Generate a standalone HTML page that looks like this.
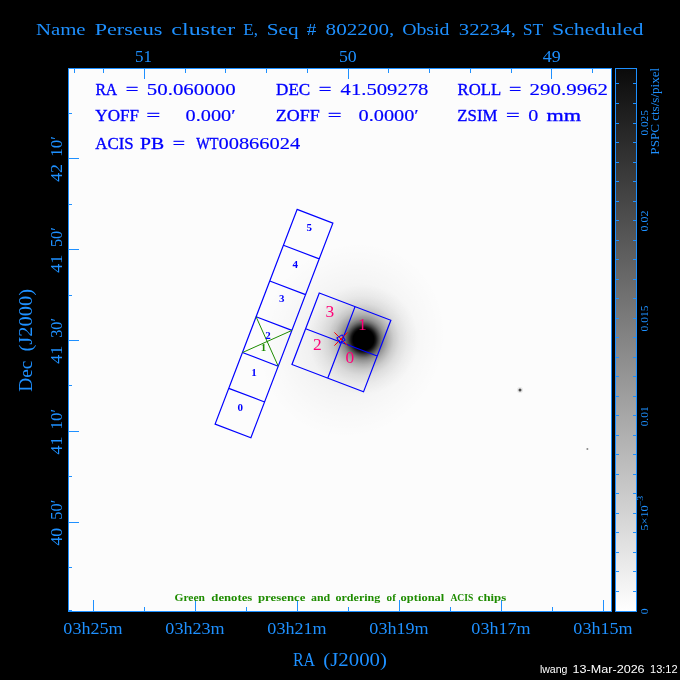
<!DOCTYPE html>
<html><head><meta charset="utf-8"><style>
html,body{margin:0;padding:0;background:#000;width:680px;height:680px;overflow:hidden}
svg{display:block;will-change:transform}
</style></head><body>
<svg width="680" height="680" viewBox="0 0 680 680">
<rect width="680" height="680" fill="#000"/>
<defs>
<radialGradient id="core" cx="0.5" cy="0.5" r="0.5"><stop offset="0.000" stop-color="#000" stop-opacity="1"/><stop offset="0.191" stop-color="#000" stop-opacity="1"/><stop offset="0.227" stop-color="#000" stop-opacity="0.9"/><stop offset="0.273" stop-color="#000" stop-opacity="0.7"/><stop offset="0.327" stop-color="#000" stop-opacity="0.5"/><stop offset="0.382" stop-color="#000" stop-opacity="0.36"/><stop offset="0.455" stop-color="#000" stop-opacity="0.25"/><stop offset="0.545" stop-color="#000" stop-opacity="0.15"/><stop offset="0.655" stop-color="#000" stop-opacity="0.08"/><stop offset="0.800" stop-color="#000" stop-opacity="0.035"/><stop offset="1.000" stop-color="#000" stop-opacity="0"/></radialGradient>
<radialGradient id="halo" cx="0.5" cy="0.5" r="0.5"><stop offset="0.000" stop-color="#000" stop-opacity="0.12"/><stop offset="0.150" stop-color="#000" stop-opacity="0.1"/><stop offset="0.300" stop-color="#000" stop-opacity="0.07"/><stop offset="0.450" stop-color="#000" stop-opacity="0.045"/><stop offset="0.600" stop-color="#000" stop-opacity="0.028"/><stop offset="0.800" stop-color="#000" stop-opacity="0.012"/><stop offset="1.000" stop-color="#000" stop-opacity="0"/></radialGradient>
<linearGradient id="cbar" x1="0" y1="68" x2="0" y2="611" gradientUnits="userSpaceOnUse"><stop offset="0" stop-color="#0a0a0a"/><stop offset="1" stop-color="#ffffff"/></linearGradient>
</defs>
<rect x="68" y="68" width="543" height="543" fill="#fcfcfc"/>
<ellipse cx="352" cy="340" rx="100" ry="92" fill="url(#halo)" transform="rotate(-60 352 340)"/>
<circle cx="363.5" cy="339.5" r="55" fill="url(#core)"/>
<circle cx="520" cy="390" r="3" fill="#000" fill-opacity="0.08"/>
<circle cx="520" cy="390" r="1.5" fill="#4a4a4a"/>
<circle cx="587.4" cy="449" r="1" fill="#888"/>
<rect x="68.5" y="68.5" width="543" height="543" fill="none" stroke="rgb(30,144,255)" stroke-width="1"/>
<rect x="615" y="68" width="21" height="543" fill="url(#cbar)"/>
<rect x="615.5" y="68.5" width="21" height="543" fill="none" stroke="rgb(30,144,255)" stroke-width="1"/>
<path d="M74.5 68V73M103.5 68V73M185.5 68V73M225.5 68V73M266.5 68V73M307.5 68V73M388.5 68V73M429.5 68V73M470.5 68V73M511.5 68V73M592.5 68V73M144.5 68V79M348.5 68V79M551.5 68V79M93.5 600V611M195.5 600V611M297.5 600V611M399.5 600V611M501.5 600V611M603.5 600V611M144.5 607V611M246.5 607V611M348.5 607V611M450.5 607V611M552.5 607V611M68 158.5H79M68 249.5H79M68 340.5H79M68 431.5H79M68 522.5H79M68 113.5H72M68 204.5H72M68 295.5H72M68 385.5H72M68 476.5H72M68 567.5H72M68 610.5H72M615 591.5H619M633 591.5H637M615 571.5H619M633 571.5H637M615 552.5H619M633 552.5H637M615 532.5H619M633 532.5H637M615 513.5H619M633 513.5H637M615 493.5H619M633 493.5H637M615 474.5H619M633 474.5H637M615 454.5H619M633 454.5H637M615 435.5H619M633 435.5H637M615 415.5H619M633 415.5H637M615 396.5H619M633 396.5H637M615 376.5H619M633 376.5H637M615 357.5H619M633 357.5H637M615 337.5H619M633 337.5H637M615 318.5H619M633 318.5H637M615 298.5H619M633 298.5H637M615 279.5H619M633 279.5H637M615 259.5H619M633 259.5H637M615 240.5H619M633 240.5H637M615 220.5H619M633 220.5H637M615 201.5H619M633 201.5H637M615 181.5H619M633 181.5H637M615 162.5H619M633 162.5H637M615 142.5H619M633 142.5H637M615 123.5H619M633 123.5H637M615 103.5H619M633 103.5H637M615 83.5H619M633 83.5H637" stroke="rgb(30,144,255)" stroke-width="1" fill="none"/>
<path d="M297.09 209.43L332.87 223.09L250.89 437.77L215.11 424.11ZM283.43 245.21L319.21 258.87M269.76 280.99L305.54 294.65M256.1 316.77L291.88 330.43M242.44 352.55L278.22 366.21M228.77 388.33L264.55 401.99M319.28 292.96L390.84 320.28L363.52 391.84L291.96 364.52ZM305.62 328.74L377.18 356.06M355.06 306.62L327.74 378.18" stroke="rgb(0,0,255)" stroke-width="1.2" fill="none"/>
<path d="M256.1 316.77L278.22 366.21M291.88 330.43L242.44 352.55" stroke="rgb(30,140,0)" stroke-width="1" fill="none"/>
<path d="M334.4 332.4L347.6 345.6M347.6 332.4L334.4 345.6" stroke="rgb(255,0,0)" stroke-width="1"/>
<rect x="338" y="336" width="6" height="6" fill="none" stroke="rgb(0,0,255)" stroke-width="1" transform="rotate(60 341 339)"/>
<text x="306.52" y="231.43" font-family="'Liberation Serif', serif" font-weight="bold" font-size="11" fill="rgb(0,0,255)">5</text>
<text x="292.55" y="267.73" font-family="'Liberation Serif', serif" font-weight="bold" font-size="11" fill="rgb(0,0,255)">4</text>
<text x="279.12" y="302.12" font-family="'Liberation Serif', serif" font-weight="bold" font-size="11" fill="rgb(0,0,255)">3</text>
<text x="265.25" y="339.23" font-family="'Liberation Serif', serif" font-weight="bold" font-size="11" fill="rgb(0,0,255)">2</text>
<text x="251.22" y="375.73" font-family="'Liberation Serif', serif" font-weight="bold" font-size="11" fill="rgb(0,0,255)">1</text>
<text x="237.43" y="411.43" font-family="'Liberation Serif', serif" font-weight="bold" font-size="11" fill="rgb(0,0,255)">0</text>
<text x="260.82" y="350.62" font-family="'Liberation Serif', serif" font-weight="bold" font-size="11" fill="rgb(30,140,0)">1</text>
<text x="325.62" y="316.75" font-family="'Liberation Serif', serif" font-weight="normal" font-size="17.4" fill="rgb(255,0,120)">3</text>
<text x="357.98" y="329.65" font-family="'Liberation Serif', serif" font-weight="normal" font-size="17.4" fill="rgb(255,0,120)">1</text>
<text x="312.95" y="349.77" font-family="'Liberation Serif', serif" font-weight="normal" font-size="17.4" fill="rgb(255,0,120)">2</text>
<text x="345.43" y="363.05" font-family="'Liberation Serif', serif" font-weight="normal" font-size="17.4" fill="rgb(255,0,120)">0</text>
<text x="35.9" y="34.5" font-family="'Liberation Serif', serif" font-weight="normal" font-size="17.5" fill="rgb(30,144,255)" textLength="49.73" lengthAdjust="spacingAndGlyphs" xml:space="preserve">Name</text>
<text x="94.67" y="34.5" font-family="'Liberation Serif', serif" font-weight="normal" font-size="17.5" fill="rgb(30,144,255)" textLength="67.74" lengthAdjust="spacingAndGlyphs" xml:space="preserve">Perseus</text>
<text x="171.37" y="34.5" font-family="'Liberation Serif', serif" font-weight="normal" font-size="17.5" fill="rgb(30,144,255)" textLength="63.83" lengthAdjust="spacingAndGlyphs" xml:space="preserve">cluster</text>
<text x="243.31" y="34.5" font-family="'Liberation Serif', serif" font-weight="normal" font-size="17.5" fill="rgb(30,144,255)" textLength="14.73" lengthAdjust="spacingAndGlyphs" xml:space="preserve">E,</text>
<text x="266.68" y="34.5" font-family="'Liberation Serif', serif" font-weight="normal" font-size="17.5" fill="rgb(30,144,255)" textLength="31.82" lengthAdjust="spacingAndGlyphs" xml:space="preserve">Seq</text>
<text x="306.73" y="34.5" font-family="'Liberation Serif', serif" font-weight="normal" font-size="17.5" fill="rgb(30,144,255)" textLength="9.55" lengthAdjust="spacingAndGlyphs" xml:space="preserve">#</text>
<text x="325.59" y="34.5" font-family="'Liberation Serif', serif" font-weight="normal" font-size="17.5" fill="rgb(30,144,255)" textLength="68.77" lengthAdjust="spacingAndGlyphs" xml:space="preserve">802200,</text>
<text x="402.15" y="34.5" font-family="'Liberation Serif', serif" font-weight="normal" font-size="17.5" fill="rgb(30,144,255)" textLength="47.32" lengthAdjust="spacingAndGlyphs" xml:space="preserve">Obsid</text>
<text x="458.81" y="34.5" font-family="'Liberation Serif', serif" font-weight="normal" font-size="17.5" fill="rgb(30,144,255)" textLength="57.23" lengthAdjust="spacingAndGlyphs" xml:space="preserve">32234,</text>
<text x="522.74" y="34.5" font-family="'Liberation Serif', serif" font-weight="normal" font-size="17.5" fill="rgb(30,144,255)" textLength="20.64" lengthAdjust="spacingAndGlyphs" xml:space="preserve">ST</text>
<text x="551.93" y="34.5" font-family="'Liberation Serif', serif" font-weight="normal" font-size="17.5" fill="rgb(30,144,255)" textLength="91.45" lengthAdjust="spacingAndGlyphs" xml:space="preserve">Scheduled</text>
<text x="134.97" y="62" font-family="'Liberation Serif', serif" font-weight="normal" font-size="16.4" fill="rgb(30,144,255)" textLength="16.96" lengthAdjust="spacingAndGlyphs" xml:space="preserve">51</text>
<text x="338.92" y="62" font-family="'Liberation Serif', serif" font-weight="normal" font-size="16.4" fill="rgb(30,144,255)" textLength="17.79" lengthAdjust="spacingAndGlyphs" xml:space="preserve">50</text>
<text x="542.73" y="62" font-family="'Liberation Serif', serif" font-weight="normal" font-size="16.4" fill="rgb(30,144,255)" textLength="17.99" lengthAdjust="spacingAndGlyphs" xml:space="preserve">49</text>
<text x="63.35" y="634" font-family="'Liberation Serif', serif" font-weight="normal" font-size="16.6" fill="rgb(30,144,255)" textLength="59.32" lengthAdjust="spacingAndGlyphs" xml:space="preserve">03h25m</text>
<text x="165.35" y="634" font-family="'Liberation Serif', serif" font-weight="normal" font-size="16.6" fill="rgb(30,144,255)" textLength="59.32" lengthAdjust="spacingAndGlyphs" xml:space="preserve">03h23m</text>
<text x="267.35" y="634" font-family="'Liberation Serif', serif" font-weight="normal" font-size="16.6" fill="rgb(30,144,255)" textLength="59.32" lengthAdjust="spacingAndGlyphs" xml:space="preserve">03h21m</text>
<text x="369.35" y="634" font-family="'Liberation Serif', serif" font-weight="normal" font-size="16.6" fill="rgb(30,144,255)" textLength="59.32" lengthAdjust="spacingAndGlyphs" xml:space="preserve">03h19m</text>
<text x="471.35" y="634" font-family="'Liberation Serif', serif" font-weight="normal" font-size="16.6" fill="rgb(30,144,255)" textLength="59.32" lengthAdjust="spacingAndGlyphs" xml:space="preserve">03h17m</text>
<text x="573.35" y="634" font-family="'Liberation Serif', serif" font-weight="normal" font-size="16.6" fill="rgb(30,144,255)" textLength="59.32" lengthAdjust="spacingAndGlyphs" xml:space="preserve">03h15m</text>
<text x="292.95" y="665.8" font-family="'Liberation Serif', serif" font-weight="normal" font-size="17.8" fill="rgb(30,144,255)" textLength="22.23" lengthAdjust="spacingAndGlyphs" xml:space="preserve">RA</text>
<text x="323.32" y="665.8" font-family="'Liberation Serif', serif" font-weight="normal" font-size="17.8" fill="rgb(30,144,255)" textLength="63.6" lengthAdjust="spacingAndGlyphs" xml:space="preserve">(J2000)</text>
<text x="95.42" y="94.6" font-family="'Liberation Serif', serif" font-weight="normal" font-size="16.4" fill="rgb(0,0,255)" textLength="21.81" lengthAdjust="spacingAndGlyphs" xml:space="preserve" stroke="rgb(0,0,255)" stroke-width="0.35">RA</text>
<text x="125.77" y="94.6" font-family="'Liberation Serif', serif" font-weight="normal" font-size="16.4" fill="rgb(0,0,255)" textLength="12.65" lengthAdjust="spacingAndGlyphs" xml:space="preserve" stroke="rgb(0,0,255)" stroke-width="0.35">=</text>
<text x="146.83" y="94.6" font-family="'Liberation Serif', serif" font-weight="normal" font-size="16.4" fill="rgb(0,0,255)" textLength="88.76" lengthAdjust="spacingAndGlyphs" xml:space="preserve" stroke="rgb(0,0,255)" stroke-width="0.15">50.060000</text>
<text x="276.08" y="94.6" font-family="'Liberation Serif', serif" font-weight="normal" font-size="16.4" fill="rgb(0,0,255)" textLength="34.15" lengthAdjust="spacingAndGlyphs" xml:space="preserve" stroke="rgb(0,0,255)" stroke-width="0.35">DEC</text>
<text x="318.67" y="94.6" font-family="'Liberation Serif', serif" font-weight="normal" font-size="16.4" fill="rgb(0,0,255)" textLength="12.65" lengthAdjust="spacingAndGlyphs" xml:space="preserve" stroke="rgb(0,0,255)" stroke-width="0.35">=</text>
<text x="340.58" y="94.6" font-family="'Liberation Serif', serif" font-weight="normal" font-size="16.4" fill="rgb(0,0,255)" textLength="87.89" lengthAdjust="spacingAndGlyphs" xml:space="preserve" stroke="rgb(0,0,255)" stroke-width="0.15">41.509278</text>
<text x="457.59" y="94.6" font-family="'Liberation Serif', serif" font-weight="normal" font-size="16.4" fill="rgb(0,0,255)" textLength="43.49" lengthAdjust="spacingAndGlyphs" xml:space="preserve" stroke="rgb(0,0,255)" stroke-width="0.35">ROLL</text>
<text x="509" y="94.6" font-family="'Liberation Serif', serif" font-weight="normal" font-size="16.4" fill="rgb(0,0,255)" textLength="12.29" lengthAdjust="spacingAndGlyphs" xml:space="preserve" stroke="rgb(0,0,255)" stroke-width="0.35">=</text>
<text x="529.64" y="94.6" font-family="'Liberation Serif', serif" font-weight="normal" font-size="16.4" fill="rgb(0,0,255)" textLength="78.41" lengthAdjust="spacingAndGlyphs" xml:space="preserve" stroke="rgb(0,0,255)" stroke-width="0.15">290.9962</text>
<text x="95.34" y="121.3" font-family="'Liberation Serif', serif" font-weight="normal" font-size="16.4" fill="rgb(0,0,255)" textLength="43.56" lengthAdjust="spacingAndGlyphs" xml:space="preserve" stroke="rgb(0,0,255)" stroke-width="0.35">YOFF</text>
<text x="146.49" y="121.3" font-family="'Liberation Serif', serif" font-weight="normal" font-size="16.4" fill="rgb(0,0,255)" textLength="13.73" lengthAdjust="spacingAndGlyphs" xml:space="preserve" stroke="rgb(0,0,255)" stroke-width="0.35">=</text>
<text x="185.58" y="121.3" font-family="'Liberation Serif', serif" font-weight="normal" font-size="16.4" fill="rgb(0,0,255)" textLength="50.03" lengthAdjust="spacingAndGlyphs" xml:space="preserve" stroke="rgb(0,0,255)" stroke-width="0.15">0.000&#8242;</text>
<text x="275.78" y="121.3" font-family="'Liberation Serif', serif" font-weight="normal" font-size="16.4" fill="rgb(0,0,255)" textLength="43.88" lengthAdjust="spacingAndGlyphs" xml:space="preserve" stroke="rgb(0,0,255)" stroke-width="0.35">ZOFF</text>
<text x="327.69" y="121.3" font-family="'Liberation Serif', serif" font-weight="normal" font-size="16.4" fill="rgb(0,0,255)" textLength="13.73" lengthAdjust="spacingAndGlyphs" xml:space="preserve" stroke="rgb(0,0,255)" stroke-width="0.35">=</text>
<text x="358.48" y="121.3" font-family="'Liberation Serif', serif" font-weight="normal" font-size="16.4" fill="rgb(0,0,255)" textLength="60.37" lengthAdjust="spacingAndGlyphs" xml:space="preserve" stroke="rgb(0,0,255)" stroke-width="0.15">0.0000&#8242;</text>
<text x="457.33" y="121.3" font-family="'Liberation Serif', serif" font-weight="normal" font-size="16.4" fill="rgb(0,0,255)" textLength="40.11" lengthAdjust="spacingAndGlyphs" xml:space="preserve" stroke="rgb(0,0,255)" stroke-width="0.35">ZSIM</text>
<text x="505.9" y="121.3" font-family="'Liberation Serif', serif" font-weight="normal" font-size="16.4" fill="rgb(0,0,255)" textLength="13.61" lengthAdjust="spacingAndGlyphs" xml:space="preserve" stroke="rgb(0,0,255)" stroke-width="0.35">=</text>
<text x="528.19" y="121.3" font-family="'Liberation Serif', serif" font-weight="normal" font-size="16.4" fill="rgb(0,0,255)" textLength="10.07" lengthAdjust="spacingAndGlyphs" xml:space="preserve" stroke="rgb(0,0,255)" stroke-width="0.15">0</text>
<text x="546.46" y="121.3" font-family="'Liberation Serif', serif" font-weight="normal" font-size="16.4" fill="rgb(0,0,255)" textLength="34.49" lengthAdjust="spacingAndGlyphs" xml:space="preserve" stroke="rgb(0,0,255)" stroke-width="0.35">mm</text>
<text x="95.34" y="148.8" font-family="'Liberation Serif', serif" font-weight="normal" font-size="16.4" fill="rgb(0,0,255)" textLength="38.4" lengthAdjust="spacingAndGlyphs" xml:space="preserve" stroke="rgb(0,0,255)" stroke-width="0.35">ACIS</text>
<text x="140.1" y="148.8" font-family="'Liberation Serif', serif" font-weight="normal" font-size="16.4" fill="rgb(0,0,255)" textLength="24.07" lengthAdjust="spacingAndGlyphs" xml:space="preserve" stroke="rgb(0,0,255)" stroke-width="0.35">PB</text>
<text x="172.8" y="148.8" font-family="'Liberation Serif', serif" font-weight="normal" font-size="16.4" fill="rgb(0,0,255)" textLength="12.29" lengthAdjust="spacingAndGlyphs" xml:space="preserve" stroke="rgb(0,0,255)" stroke-width="0.35">=</text>
<text x="196.2" y="148.8" font-family="'Liberation Serif', serif" font-weight="normal" font-size="16.4" fill="rgb(0,0,255)" textLength="22.21" lengthAdjust="spacingAndGlyphs" xml:space="preserve" stroke="rgb(0,0,255)" stroke-width="0.35">WT</text>
<text x="218.48" y="148.8" font-family="'Liberation Serif', serif" font-weight="normal" font-size="16.4" fill="rgb(0,0,255)" textLength="81.75" lengthAdjust="spacingAndGlyphs" xml:space="preserve" stroke="rgb(0,0,255)" stroke-width="0.15">00866024</text>
<text x="174.42" y="600.8" font-family="'Liberation Serif', serif" font-weight="bold" font-size="10" fill="rgb(30,140,0)" textLength="30.55" lengthAdjust="spacingAndGlyphs" xml:space="preserve">Green</text>
<text x="211.37" y="600.8" font-family="'Liberation Serif', serif" font-weight="bold" font-size="10" fill="rgb(30,140,0)" textLength="40.92" lengthAdjust="spacingAndGlyphs" xml:space="preserve">denotes</text>
<text x="258" y="600.8" font-family="'Liberation Serif', serif" font-weight="bold" font-size="10" fill="rgb(30,140,0)" textLength="47.35" lengthAdjust="spacingAndGlyphs" xml:space="preserve">presence</text>
<text x="310.95" y="600.8" font-family="'Liberation Serif', serif" font-weight="bold" font-size="10" fill="rgb(30,140,0)" textLength="19.2" lengthAdjust="spacingAndGlyphs" xml:space="preserve">and</text>
<text x="335.5" y="600.8" font-family="'Liberation Serif', serif" font-weight="bold" font-size="10" fill="rgb(30,140,0)" textLength="44.76" lengthAdjust="spacingAndGlyphs" xml:space="preserve">ordering</text>
<text x="386.62" y="600.8" font-family="'Liberation Serif', serif" font-weight="bold" font-size="10" fill="rgb(30,140,0)" textLength="9.29" lengthAdjust="spacingAndGlyphs" xml:space="preserve">of</text>
<text x="400.59" y="600.8" font-family="'Liberation Serif', serif" font-weight="bold" font-size="10" fill="rgb(30,140,0)" textLength="43.73" lengthAdjust="spacingAndGlyphs" xml:space="preserve">optional</text>
<text x="450.4" y="600.8" font-family="'Liberation Serif', serif" font-weight="bold" font-size="10" fill="rgb(30,140,0)" textLength="22.88" lengthAdjust="spacingAndGlyphs" xml:space="preserve">ACIS</text>
<text x="477.78" y="600.8" font-family="'Liberation Serif', serif" font-weight="bold" font-size="10" fill="rgb(30,140,0)" textLength="28.42" lengthAdjust="spacingAndGlyphs" xml:space="preserve">chips</text>
<text x="539.88" y="672.9" font-family="'Liberation Sans', sans-serif" font-weight="normal" font-size="11" fill="#fff" textLength="27.63" lengthAdjust="spacingAndGlyphs" xml:space="preserve">lwang</text>
<text x="572.64" y="672.9" font-family="'Liberation Sans', sans-serif" font-weight="normal" font-size="11" fill="#fff" textLength="72" lengthAdjust="spacingAndGlyphs" xml:space="preserve">13-Mar-2026</text>
<text x="650.05" y="672.9" font-family="'Liberation Sans', sans-serif" font-weight="normal" font-size="11" fill="#fff" textLength="27.58" lengthAdjust="spacingAndGlyphs" xml:space="preserve">13:12</text>
<text x="-0.27" y="0" transform="translate(62 181.6) rotate(-90)" font-family="'Liberation Serif', serif" font-weight="normal" font-size="16.4" fill="rgb(30,144,255)" textLength="17.96" lengthAdjust="spacingAndGlyphs" xml:space="preserve">42</text>
<text x="-1.55" y="0" transform="translate(62 155.2) rotate(-90)" font-family="'Liberation Serif', serif" font-weight="normal" font-size="16.4" fill="rgb(30,144,255)" textLength="20.61" lengthAdjust="spacingAndGlyphs" xml:space="preserve">10&#8242;</text>
<text x="-0.27" y="0" transform="translate(62 272.5) rotate(-90)" font-family="'Liberation Serif', serif" font-weight="normal" font-size="16.4" fill="rgb(30,144,255)" textLength="17.96" lengthAdjust="spacingAndGlyphs" xml:space="preserve">41</text>
<text x="-1" y="0" transform="translate(62 246.1) rotate(-90)" font-family="'Liberation Serif', serif" font-weight="normal" font-size="16.4" fill="rgb(30,144,255)" textLength="20.04" lengthAdjust="spacingAndGlyphs" xml:space="preserve">50&#8242;</text>
<text x="-0.27" y="0" transform="translate(62 363.4) rotate(-90)" font-family="'Liberation Serif', serif" font-weight="normal" font-size="16.4" fill="rgb(30,144,255)" textLength="17.96" lengthAdjust="spacingAndGlyphs" xml:space="preserve">41</text>
<text x="-0.74" y="0" transform="translate(62 337) rotate(-90)" font-family="'Liberation Serif', serif" font-weight="normal" font-size="16.4" fill="rgb(30,144,255)" textLength="19.77" lengthAdjust="spacingAndGlyphs" xml:space="preserve">30&#8242;</text>
<text x="-0.27" y="0" transform="translate(62 454.3) rotate(-90)" font-family="'Liberation Serif', serif" font-weight="normal" font-size="16.4" fill="rgb(30,144,255)" textLength="17.96" lengthAdjust="spacingAndGlyphs" xml:space="preserve">41</text>
<text x="-1.55" y="0" transform="translate(62 427.9) rotate(-90)" font-family="'Liberation Serif', serif" font-weight="normal" font-size="16.4" fill="rgb(30,144,255)" textLength="20.61" lengthAdjust="spacingAndGlyphs" xml:space="preserve">10&#8242;</text>
<text x="-0.27" y="0" transform="translate(62 545.2) rotate(-90)" font-family="'Liberation Serif', serif" font-weight="normal" font-size="16.4" fill="rgb(30,144,255)" textLength="17.67" lengthAdjust="spacingAndGlyphs" xml:space="preserve">40</text>
<text x="-1" y="0" transform="translate(62 518.8) rotate(-90)" font-family="'Liberation Serif', serif" font-weight="normal" font-size="16.4" fill="rgb(30,144,255)" textLength="20.04" lengthAdjust="spacingAndGlyphs" xml:space="preserve">50&#8242;</text>
<text x="-0.54" y="0" transform="translate(31.8 391.3) rotate(-90)" font-family="'Liberation Serif', serif" font-weight="normal" font-size="17.8" fill="rgb(30,144,255)" textLength="31.18" lengthAdjust="spacingAndGlyphs" xml:space="preserve">Dec</text>
<text x="-0.86" y="0" transform="translate(31.8 350.7) rotate(-90)" font-family="'Liberation Serif', serif" font-weight="normal" font-size="17.8" fill="rgb(30,144,255)" textLength="62.67" lengthAdjust="spacingAndGlyphs" xml:space="preserve">(J2000)</text>
<text x="-0.27" y="0" transform="translate(648.2 135.3) rotate(-90)" font-family="'Liberation Serif', serif" font-weight="normal" font-size="10.4" fill="rgb(30,144,255)" textLength="25.4" lengthAdjust="spacingAndGlyphs" xml:space="preserve">0.025</text>
<text x="-0.29" y="0" transform="translate(648.2 231.3) rotate(-90)" font-family="'Liberation Serif', serif" font-weight="normal" font-size="10.4" fill="rgb(30,144,255)" textLength="21.11" lengthAdjust="spacingAndGlyphs" xml:space="preserve">0.02</text>
<text x="-0.28" y="0" transform="translate(648.2 331.2) rotate(-90)" font-family="'Liberation Serif', serif" font-weight="normal" font-size="10.4" fill="rgb(30,144,255)" textLength="26.12" lengthAdjust="spacingAndGlyphs" xml:space="preserve">0.015</text>
<text x="-0.27" y="0" transform="translate(648.2 426.1) rotate(-90)" font-family="'Liberation Serif', serif" font-weight="normal" font-size="10.4" fill="rgb(30,144,255)" textLength="19.97" lengthAdjust="spacingAndGlyphs" xml:space="preserve">0.01</text>
<text x="-0.28" y="0" transform="translate(648.2 614) rotate(-90)" font-family="'Liberation Serif', serif" font-weight="normal" font-size="10.4" fill="rgb(30,144,255)" textLength="5.89" lengthAdjust="spacingAndGlyphs" xml:space="preserve">0</text>
<text x="-0.59" y="0" transform="translate(648.2 530) rotate(-90)" font-family="'Liberation Serif', serif" font-weight="normal" font-size="10.4" fill="rgb(30,144,255)" textLength="25.23" lengthAdjust="spacingAndGlyphs" xml:space="preserve">5&#215;10</text>
<text x="-0.33" y="0" transform="translate(643 505.9) rotate(-90)" font-family="'Liberation Serif', serif" font-weight="normal" font-size="7.5" fill="rgb(30,144,255)" textLength="10.53" lengthAdjust="spacingAndGlyphs" xml:space="preserve">&#8722;3</text>
<text x="-0.26" y="0" transform="translate(658.6 154.4) rotate(-90)" font-family="'Liberation Serif', serif" font-weight="normal" font-size="12.8" fill="rgb(30,144,255)" textLength="86.89" lengthAdjust="spacingAndGlyphs" xml:space="preserve">PSPC cts/s/pixel</text>
</svg>
</body></html>
